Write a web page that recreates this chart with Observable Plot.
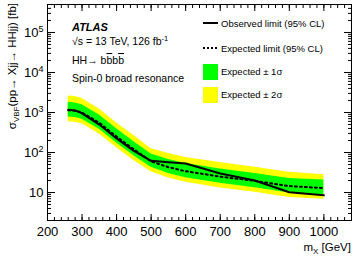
<!DOCTYPE html>
<html><head><meta charset="utf-8">
<script src="https://cdn.jsdelivr.net/npm/d3@7"></script>
<script src="https://cdn.jsdelivr.net/npm/@observablehq/plot@0.6"></script>
<style>
body{margin:0;background:#fff;}
#chart{width:357px;height:257px;}
</style></head><body><div id="chart"></div>
<script>
// Data
const mass     = [260, 280, 300, 350, 400, 450, 500, 550, 600, 700, 800, 900, 1000];
const observed = [1170, 1130, 950, 500, 225, 110, 62, 57, 53, 30, 20, 10.2, 8.5];
const expected = [1130, 1100, 1000, 550, 250, 120, 60, 43, 34, 25, 19.5, 14.5, 12.9];
const plus2    = [2600, 2500, 2250, 1230, 550, 265, 125, 95, 75, 56, 43, 32, 28];
const plus1    = [1800, 1720, 1560, 860, 390, 186, 92, 67, 53, 39, 30, 22.5, 20.5];
const minus1   = [770, 750, 680, 380, 172, 83, 43, 30, 23.5, 17, 13.2, 9.8, 8.8];
const minus2   = [590, 570, 520, 290, 132, 63, 33, 23, 18, 13, 10.2, 7.5, 6.8];

const xMajor = [200, 300, 400, 500, 600, 700, 800, 900, 1000];
const xMinor = d3.range(200, 1081, 20);
const yMajor = [10, 100, 1000, 10000, 100000];
const yLabels = ["10", "10^2", "10^3", "10^4", "10^5"];
const yMinor = [];
for (let e = 0; e <= 5; e++) for (let k = 2; k <= 9; k++) { const v = k * 10 ** e; if (v >= 2 && v <= 5e5) yMinor.push(v); }

const data = mass.map((m, i) => ({m, obs: observed[i], exp: expected[i], p2: plus2[i], p1: plus1[i], m1: minus1[i], m2: minus2[i]}));
const blank = () => "";

const chart = Plot.plot({
  width: 357, height: 257,
  marginLeft: 47, marginRight: 6, marginTop: 4, marginBottom: 37,
  style: {fontFamily: "'Liberation Sans', Arial, sans-serif", fontSize: "13px", color: "#000", background: "#fff"},
  x: {domain: [200, 1080], label: null},
  y: {type: "log", domain: [2, 5e5], label: null},
  marks: [
    Plot.areaY(data, {x: "m", y1: "m2", y2: "p2", fill: "#ffff00"}),
    Plot.areaY(data, {x: "m", y1: "m1", y2: "p1", fill: "#00ff00"}),
    Plot.line(data, {x: "m", y: "exp", stroke: "#000", strokeWidth: 2, strokeDasharray: "2,3"}),
    Plot.line(data, {x: "m", y: "obs", stroke: "#000", strokeWidth: 2}),
    Plot.frame({stroke: "#000"}),
    Plot.axisX(xMajor, {anchor: "bottom", tickSize: 0, tickPadding: 6, label: null, tickFormat: d => String(d)}),
    Plot.axisX(xMajor, {anchor: "bottom", tickSize: -6, label: null, tickFormat: blank}),
    Plot.axisX(xMinor, {anchor: "bottom", tickSize: -3, label: null, tickFormat: blank}),
    Plot.axisX(xMajor, {anchor: "top", tickSize: -6, label: null, tickFormat: blank}),
    Plot.axisX(xMinor, {anchor: "top", tickSize: -3, label: null, tickFormat: blank}),
    Plot.axisY(yMajor, {anchor: "left", tickSize: 0, tickPadding: 4, label: null, tickFormat: d => yLabels[yMajor.indexOf(d)]}),
    Plot.axisY(yMajor, {anchor: "left", tickSize: -8, label: null, tickFormat: blank}),
    Plot.axisY(yMinor, {anchor: "left", tickSize: -4, label: null, tickFormat: blank}),
    Plot.axisY(yMajor, {anchor: "right", tickSize: -8, label: null, tickFormat: blank}),
    Plot.axisY(yMinor, {anchor: "right", tickSize: -4, label: null, tickFormat: blank})
  ]
});
document.getElementById("chart").appendChild(chart);

const svg = d3.select(chart);
// superscripts on y tick labels
svg.selectAll("text").each(function () {
  const t = this.textContent;
  if (/^10\^\d$/.test(t)) {
    const [b, e] = t.split("^");
    const el = d3.select(this);
    el.text("");
    el.append("tspan").text(b);
    el.append("tspan").attr("dy", "-0.5em").attr("font-size", "9px").text(e);
  }
});

function txt(x, y, size, opts = {}) {
  const t = svg.append("text").attr("x", x).attr("y", y).style("font-size", size + "px")
    .style("font-family", "'Liberation Sans', Arial, sans-serif").attr("fill", "#000")
    .attr("text-anchor", opts.anchor || "start");
  if (opts.weight) t.style("font-weight", opts.weight);
  if (opts.italic) t.style("font-style", "italic");
  return t;
}

// y-axis title
const yt = svg.append("text").attr("transform", "translate(16,3) rotate(-90)").attr("text-anchor", "end")
  .style("font-size", "11.5px").style("font-family", "'Liberation Sans', Arial, sans-serif");
yt.append("tspan").text("σ");
yt.append("tspan").attr("dy", 3).style("font-size", "8px").text("VBF");
yt.append("tspan").attr("dy", -3).text("(pp→ Xjj→ HHjj) [fb]");

// x-axis title
const xt = txt(351, 251, 11.5, {anchor: "end"});
xt.append("tspan").text("m");
xt.append("tspan").attr("dy", 3).style("font-size", "8px").text("X");
xt.append("tspan").attr("dy", -3).text(" [GeV]");

// annotations
txt(72, 31, 11, {weight: "bold", italic: true}).text("ATLAS");
const s = txt(72, 45, 10.5);
s.append("tspan").text("√s = 13 TeV, 126 fb");
s.append("tspan").attr("dy", -4).style("font-size", "7.5px").text("-1");
const hh = txt(72, 64, 10.5);
hh.append("tspan").text("HH→ b");
hh.append("tspan").style("text-decoration", "overline").text("b");
hh.append("tspan").text("b");
hh.append("tspan").style("text-decoration", "overline").text("b");
txt(72, 82, 10.5).text("Spin-0 broad resonance");

// legend
svg.append("line").attr("x1", 203).attr("x2", 218).attr("y1", 23).attr("y2", 23).attr("stroke", "#000").attr("stroke-width", 2);
txt(221, 26.5, 9.5).text("Observed limit (95% CL)");
svg.append("line").attr("x1", 203).attr("x2", 218).attr("y1", 48).attr("y2", 48).attr("stroke", "#000").attr("stroke-width", 2).attr("stroke-dasharray", "2,2");
txt(221, 51.5, 9.5).text("Expected limit (95% CL)");
svg.append("rect").attr("x", 203).attr("y", 64).attr("width", 15).attr("height", 16).attr("fill", "#00ff00");
txt(221, 75, 9.5).text("Expected ± 1σ");
svg.append("rect").attr("x", 203).attr("y", 87).attr("width", 15).attr("height", 16).attr("fill", "#ffff00");
txt(221, 98, 9.5).text("Expected ± 2σ");
</script></body></html>
